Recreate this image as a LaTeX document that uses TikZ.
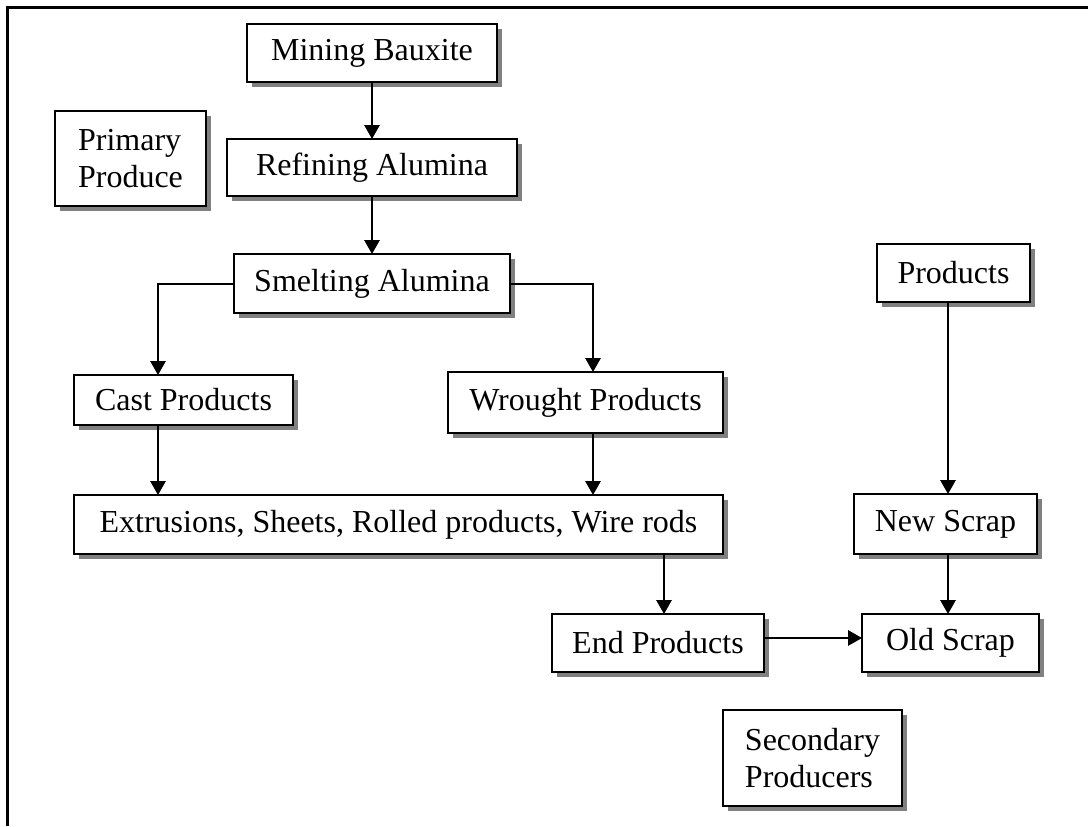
\documentclass[tikz,border=0pt]{standalone}
\usepackage{fontspec}
\setmainfont{Liberation Serif}
\usepackage{tikz}
\usetikzlibrary{arrows.meta,shadows}

\begin{document}
\begin{tikzpicture}[
  x=0.75pt,
  y=-0.75pt,
  font=\fontsize{24}{27.6}\selectfont,
  stagebox/.style={
    draw,
    fill=white,
    line width=1.5pt,
    inner sep=0pt,
    outer sep=0pt,
    drop shadow={shadow xshift=4pt,shadow yshift=-4pt,fill=black!50,opacity=1}
  },
  flow/.style={
    line width=1.5pt,
    -{Triangle[length=10.5pt,width=11.5pt]}
  }
]
\useasboundingbox (0,0) rectangle (1088,826);
\draw[line width=2.25pt] (7,826) -- (7,7) -- (1088,7);
\node[stagebox,minimum width=187.5pt,minimum height=43.5pt] (mining) at (372,53) {Mining Bauxite};
\node[stagebox,minimum width=217.5pt,minimum height=42.75pt] (refining) at (372,167.5) {Refining Alumina};
\node[stagebox,minimum width=113.25pt,minimum height=71.25pt,align=left] (primary) at (130.5,158.5) {Primary\\Produce};
\node[stagebox,minimum width=207pt,minimum height=44.25pt] (smelting) at (372,283.5) {Smelting Alumina};
\node[stagebox,minimum width=164.25pt,minimum height=37.5pt] (cast) at (183.5,400) {Cast Products};
\node[stagebox,minimum width=206.25pt,minimum height=45.75pt] (wrought) at (585.5,402.5) {Wrought Products};
\node[stagebox,minimum width=486.75pt,minimum height=44.25pt] (extr) at (398.5,524.5) {Extrusions, Sheets, Rolled products, Wire rods};
\node[stagebox,minimum width=159pt,minimum height=43.5pt] (endp) at (658,643) {End Products};
\node[stagebox,minimum width=132.75pt,minimum height=43.5pt] (old) at (950.5,643) {Old Scrap};
\node[stagebox,minimum width=137.25pt,minimum height=45pt] (newscrap) at (945.5,524) {New Scrap};
\node[stagebox,minimum width=114.75pt,minimum height=43.5pt] (products) at (953.5,273) {Products};
\node[stagebox,minimum width=134.25pt,minimum height=72pt,align=left] (secondary) at (812.5,758) {Secondary\\Producers};
\coordinate (castx) at (158,0);
\coordinate (wroughtx) at (593,0);
\coordinate (endx) at (664,0);
\coordinate (scrapx) at (948,0);
\coordinate (endy) at (0,638);
\draw[flow] (mining) -- (refining);
\draw[flow] (refining) -- (smelting);
\draw[flow] (smelting.west) -| (castx |- cast.north);
\draw[flow] (smelting.east) -| (wroughtx |- wrought.north);
\draw[flow] (castx |- cast.south) -- (castx |- extr.north);
\draw[flow] (wroughtx |- wrought.south) -- (wroughtx |- extr.north);
\draw[flow] (endx |- extr.south) -- (endx |- endp.north);
\draw[flow] (endp.east |- endy) -- (old.west |- endy);
\draw[flow] (scrapx |- products.south) -- (scrapx |- newscrap.north);
\draw[flow] (scrapx |- newscrap.south) -- (scrapx |- old.north);
\end{tikzpicture}
\end{document}
